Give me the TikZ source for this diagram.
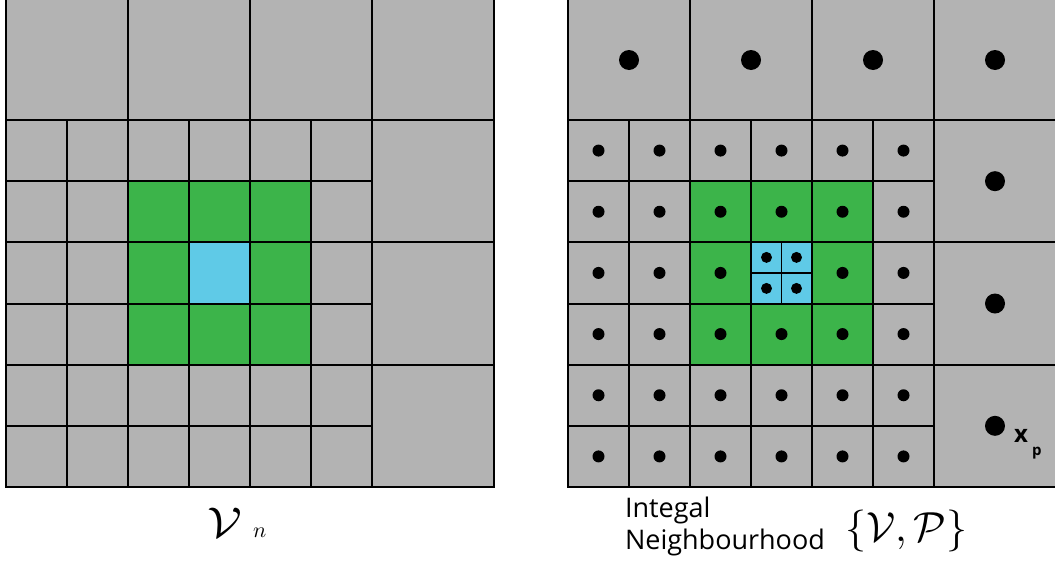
\documentclass[tikz,border=0pt]{standalone}
\usepackage{fontspec}
\setsansfont{Open Sans}
\definecolor{cellgray}{HTML}{B3B3B3}
\definecolor{cellgreen}{HTML}{3CB44A}
\definecolor{cellblue}{HTML}{5FCAE7}
\newcommand{\gridpanel}[1]{%
  % #1 = x offset
  \foreach \i in {0,...,3}{\path[cellbox] (#1+122*\i,-3) rectangle (#1+122*\i+122,120);}
  \foreach \j in {0,...,5}{\foreach \k in {0,...,5}{%
    \path[cellbox] (#1+61*\j,120+61.1667*\k) rectangle (#1+61*\j+61,120+61.1667*\k+61.1667);}}
  \foreach \m in {0,...,2}{\path[cellbox] (#1+366,120+122.333*\m) rectangle (#1+488,120+122.333*\m+122.333);}
  \path[cellbox,fill=cellgreen] (#1+122,181.1667) rectangle (#1+305,364.5);
  \foreach \j in {2,3,4}{\foreach \k in {1,2,3}{%
    \path[cellbox,fill=cellgreen] (#1+61*\j,120+61.1667*\k) rectangle (#1+61*\j+61,120+61.1667*\k+61.1667);}}
  \path[cellbox,fill=cellblue] (#1+183,242.333) rectangle (#1+244,303.5);
}
\begin{document}
\begin{tikzpicture}[x=1pt,y=-1pt,
  cellbox/.style={fill=cellgray,draw=black,line width=2pt},
  bigdot/.style={fill=black},
  lbl/.style={inner sep=0pt,outer sep=0pt}]
\useasboundingbox (0,0) rectangle (1055,565);
\begin{scope}
\clip (0,0) rectangle (1055,565);
\gridpanel{6}
\gridpanel{568}
% quad split of blue cell, right panel
\draw[line width=1.5pt] (781.5,242.333) -- (781.5,303.5);
\draw[line width=1.5pt] (751,272.9) -- (812,272.9);
% big dots
\foreach \i in {0,...,3}{\fill[bigdot] (629+122*\i,60) circle (10);}
\foreach \m in {0,...,2}{\fill[bigdot] (995,181.17+122.333*\m) circle (10);}
% small dots
\foreach \j in {0,...,5}{\foreach \k in {0,...,5}{%
  \ifnum\j=3 \ifnum\k=2 \else \fill[bigdot] (598.5+61*\j,150.58+61.1667*\k) circle (6);\fi
  \else \fill[bigdot] (598.5+61*\j,150.58+61.1667*\k) circle (6);\fi}}
% quad dots
\foreach \dx in {-15,15}{\foreach \dy in {-15.5,15.5}{\fill[bigdot] (781.5+\dx,272.9+\dy) circle (5.5);}}
\end{scope}
% labels
\node[lbl,anchor=base west] (xp) at (1014,442) {\sffamily\bfseries\fontsize{24}{24}\selectfont x};
\node[lbl,anchor=base west] (xpsub) at (1032,455) {\sffamily\bfseries\fontsize{15}{15}\selectfont p};
\node[lbl,anchor=base west] (vn) at (207,537) {\scalebox{5.0}[4.3]{$\mathcal{V}$}};
\node[lbl,anchor=base west] (vnsub) at (253,537) {\scalebox{2.2}{$n$}};
\node[lbl,anchor=base west] (integal) at (625,517) {\sffamily\fontsize{27}{27}\selectfont Integal};
\node[lbl,anchor=base west] (neigh) at (625,549) {\sffamily\fontsize{27}{27}\selectfont Neighbourhood};
\node[lbl,anchor=base west] (vp) at (845,541) {\scalebox{4.2}{$\{\mathcal{V},\mathcal{P}\}$}};
\end{tikzpicture}
\end{document}
